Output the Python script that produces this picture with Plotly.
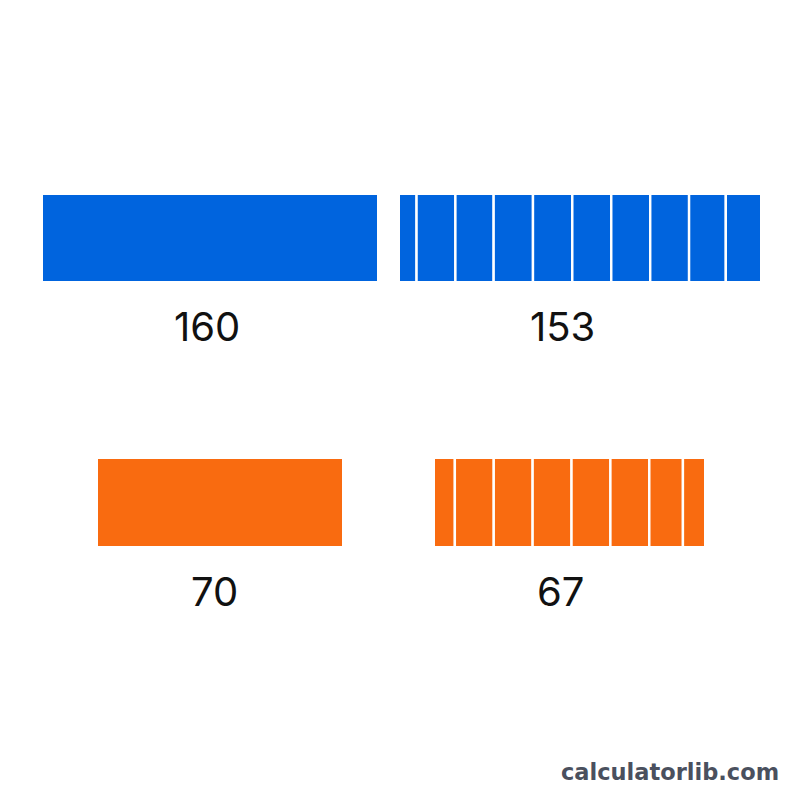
import plotly.graph_objects as go

# ---- data ----
totals_blue = [160, 153]
totals_orange = [70, 67]
segments_153 = [7.5, 16.4, 16.15, 16.6, 16.6, 16.45, 16.45, 16.4, 15.5, 15.0]
segments_67 = [5.2, 9.6, 9.6, 9.6, 9.6, 9.6, 8.3, 5.5]
watermark = "calculatorlib.com"

BLUE = "#0064DE"
ORANGE = "#F96B10"
W = 800.0
LW = 2.4


def px(v):
    return v / W


def py(v):
    return 1 - v / W


fig = go.Figure()


def cum_bases(segs):
    out, s = [], 0.0
    for v in segs:
        out.append(s)
        s += v
    return out


# panel definitions: (axis suffix, x-domain px, y-domain px, range max)
panels = [
    ("", (43, 377), (281, 195), totals_blue[0]),
    ("2", (400, 760), (281, 195), totals_blue[1]),
    ("3", (98, 342), (546, 459), totals_orange[0]),
    ("4", (435, 704), (546, 459), totals_orange[1]),
]

fig.add_trace(go.Bar(x=[totals_blue[0]], y=[0], base=[0], orientation="h", width=1,
                     marker=dict(color=BLUE, line=dict(width=0)),
                     xaxis="x", yaxis="y", hoverinfo="skip"))
fig.add_trace(go.Bar(x=segments_153, y=[0] * len(segments_153), base=cum_bases(segments_153),
                     orientation="h", width=1,
                     marker=dict(color=BLUE, line=dict(width=LW, color="white")),
                     xaxis="x2", yaxis="y2", hoverinfo="skip"))
fig.add_trace(go.Bar(x=[totals_orange[0]], y=[0], base=[0], orientation="h", width=1,
                     marker=dict(color=ORANGE, line=dict(width=0)),
                     xaxis="x3", yaxis="y3", hoverinfo="skip"))
fig.add_trace(go.Bar(x=segments_67, y=[0] * len(segments_67), base=cum_bases(segments_67),
                     orientation="h", width=1,
                     marker=dict(color=ORANGE, line=dict(width=LW, color="white")),
                     xaxis="x4", yaxis="y4", hoverinfo="skip"))

layout = dict(
    width=800, height=800,
    margin=dict(l=0, r=0, t=0, b=0),
    paper_bgcolor="white", plot_bgcolor="rgba(0,0,0,0)",
    showlegend=False, barmode="overlay",
)

for suf, (x0, x1), (y0, y1), rmax in panels:
    seg = suf in ("2", "4")
    # compensate for the white outline on segmented bars (shrink range so bar reaches domain edges)
    cx = (LW / 2) * rmax / (x1 - x0) if seg else 0
    cy = (LW / 2) * 1.0 / (y0 - y1) if seg else 0
    layout["xaxis" + suf] = dict(domain=[px(x0), px(x1)], range=[cx, rmax - cx],
                                 visible=False, fixedrange=True, anchor="y" + suf)
    layout["yaxis" + suf] = dict(domain=[py(y0), py(y1)], range=[-0.5 + cy, 0.5 - cy],
                                 visible=False, fixedrange=True, anchor="x" + suf)

fig.update_layout(**layout)

label_pos = [(207, 327), (562.5, 327), (214.5, 591), (560.5, 591)]
label_vals = totals_blue + totals_orange
for (lx, ly), v in zip(label_pos, label_vals):
    fig.add_annotation(x=px(lx), y=py(ly), xref="paper", yref="paper",
                       text=str(v), showarrow=False, xanchor="center", yanchor="middle",
                       font=dict(family="Inter, Roboto, sans-serif", size=40, color="#111111"))

fig.add_annotation(x=px(781), y=py(772), xref="paper", yref="paper",
                   text="<b>" + watermark + "</b>", showarrow=False,
                   xanchor="right", yanchor="middle",
                   font=dict(family="DejaVu Sans, sans-serif", size=22.5, color="#4A505E"))

fig.write_html("out.html")
